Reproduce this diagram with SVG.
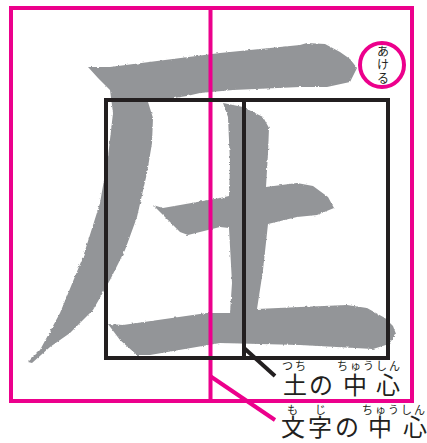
<svg xmlns="http://www.w3.org/2000/svg" width="427" height="443" viewBox="0 0 427 443">
<style>
.m{fill:none;stroke:#ec008c;stroke-width:4}
.k{fill:none;stroke:#231f20;stroke-width:4}
.g{fill:#939598;stroke:none}
text{font-family:"Noto Sans CJK JP","Noto Sans",sans-serif;fill:#231f20}
.b{font-size:24px;font-weight:400}
.r{font-size:11px}
.n{font-size:12px}
</style>
<defs><filter id="rough" x="-5%" y="-5%" width="110%" height="110%"><feTurbulence type="fractalNoise" baseFrequency="0.35" numOctaves="2" seed="4"/><feDisplacementMap in="SourceGraphic" scale="2.500" xChannelSelector="R" yChannelSelector="G"/></filter></defs>
<rect width="427" height="443" fill="#fff"/>
<g id="glyph" filter="url(#rough)">
<path class="g" d="M88 67L110 67L220 53L300 45L307 43L325 44L340 52L350 59L357 68L350 82L327 87L300 87L233 90L200 93L187 96L148 102L153 118L152 143L147 173L137 217L125 250L110 280L93 310L70 333L50 347L32 363L28 362L40 350L60 313L83 257L100 203L108 157L113 113L110 90L98 78Z"/>
<path class="g" d="M153 205L163 208L220 198L229 196L230 163L228 117L223 103L243 107L263 117L269 128L268 153L266 187L297 183L313 186L328 197L334 208L317 215L297 217L268 224L263 270L257 309L300 307L347 305L367 308L385 318L393 326L396 334L389 344L373 349L300 345L220 343L150 355L137 355L120 340L108 324L123 325L207 313L230 313L232 283L229 228L220 227L188 235L180 232Z"/>
</g>
<g id="connectors">
<line class="m" x1="210" y1="376" x2="275" y2="420"/>
<line class="k" x1="244" y1="348" x2="275" y2="376"/>
</g>
<g id="character-frame"><rect class="m" x="11" y="8" width="401" height="393"/><line class="m" x1="210.500" y1="8" x2="210.500" y2="401"/></g>
<g id="earth-frame"><rect class="k" x="106" y="100" width="282" height="258"/><line class="k" x1="244" y1="100" x2="244" y2="358"/></g>
<g id="opening-note"><circle class="m" cx="382" cy="65" r="22"/>
<text class="n" text-anchor="middle" x="383 383 383" y="56 69 83">あける</text></g>
<g id="label-earth-center">
<text class="r" x="282 295" y="370">つち</text>
<text class="r" x="337 350 363 376 389" y="370">ちゅうしん</text>
<text class="b" x="283 309 335 343 367 376" y="394">土の 中 心</text>
</g>
<g id="label-character-center">
<text class="r" x="287 315" y="414">もじ</text>
<text class="r" x="362 375 388 401 414" y="414">ちゅうしん</text>
<text class="b" x="281 308 335 360 368 395 403" y="436">文字の 中 心</text>
</g>
</svg>
